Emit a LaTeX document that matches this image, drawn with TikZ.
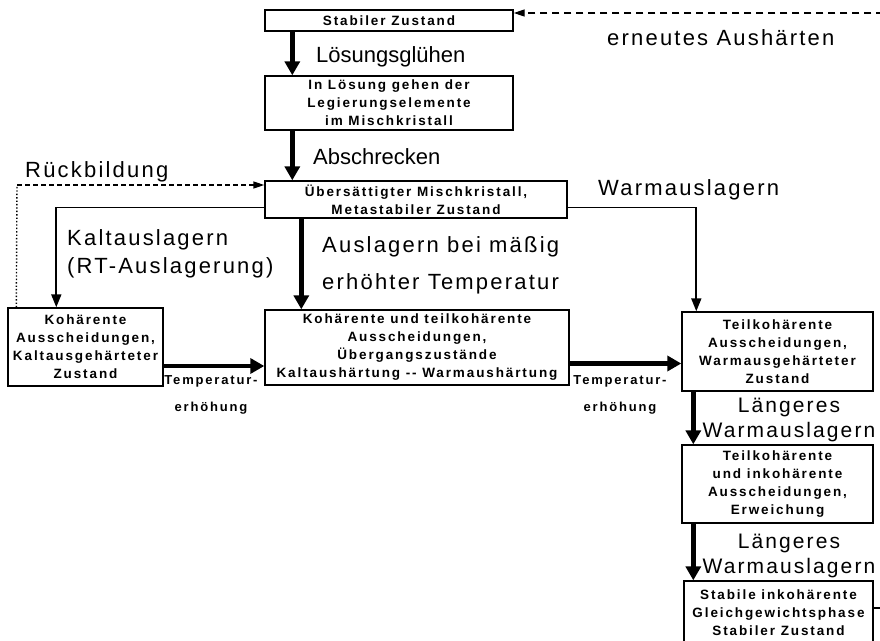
\documentclass[tikz,border=0pt]{standalone}
\usepackage{fontspec}
\setmainfont{Liberation Sans}
\newfontfamily\boxfont[LetterSpace=14]{Liberation Sans}
\newfontfamily\labelfont[LetterSpace=10]{Liberation Sans}
\usepackage{tikz}
\usetikzlibrary{arrows.meta, positioning, calc}

\begin{document}
\begin{tikzpicture}[x=1pt, y=-1pt,
    zustand/.style={draw, line width=1.4pt, align=center, inner sep=0pt, font=\boxfont\bfseries\fontsize{13.5}{18}\selectfont},
    schritt/.style={align=center, inner sep=0pt, font=\labelfont\fontsize{22}{28}\selectfont},
    klein/.style={align=center, inner sep=0pt, font=\boxfont\bfseries\fontsize{13}{27}\selectfont},
    dick/.style={line width=4.5pt, -{Triangle[length=14pt, width=15pt]}},
    duenn/.style={line width=1.8pt, -{Triangle[length=13pt, width=10pt]}},
    rueck/.style={line width=1.4pt, dash pattern=on 7pt off 5pt}]
        \path[use as bounding box, clip] (0,0) rectangle (880,640);

        % Zustaende (Kaesten)
        \node[zustand, minimum width=248pt, minimum height=21pt] (stabil) at (389,20.5) {Stabiler Zustand};
        \node[zustand, minimum width=248pt, minimum height=54pt] (loesung) at (389,103) {In Lösung gehen der\\Legierungselemente\\im Mischkristall};
        \node[zustand, minimum width=302pt, minimum height=37pt] (uebers) at (416,199.5) {Übersättigter Mischkristall,\\Metastabiler Zustand};
        \node[zustand, minimum width=155pt, minimum height=78pt] (kalt) at (85.5,347) {Kohärente\\Ausscheidungen,\\Kaltausgehärteter\\Zustand};
        \node[zustand, minimum width=304pt, minimum height=75pt] (uebergang) at (417,347.5) {Kohärente und teilkohärente\\Ausscheidungen,\\Übergangszustände\\Kaltaushärtung -{}- Warmaushärtung};
        \node[zustand, minimum width=191pt, minimum height=79pt] (warm) at (777.5,351.5) {Teilkohärente\\Ausscheidungen,\\Warmausgehärteter\\Zustand};
        \node[zustand, minimum width=191pt, minimum height=78pt] (inkoh) at (777.5,484) {Teilkohärente\\und inkohärente\\Ausscheidungen,\\Erweichung};
        \node[zustand, minimum width=189pt, minimum height=64pt] (gleich) at (778.5,613) {Stabile inkohärente\\Gleichgewichtsphase\\Stabiler Zustand};

        % Behandlungsschritte
        \node[schritt, anchor=west, font=\fontsize{22}{28}\selectfont] (gluehen) at (316,57) {Lösungsglühen};
        \node[schritt, anchor=west] (erneut) at (607,38) {erneutes Aushärten};
        \node[schritt, anchor=west, font=\fontsize{22}{28}\selectfont] (abschreck) at (313,157) {Abschrecken};
        \node[schritt, anchor=west] (rueckbild) at (25,172) {Rückbildung};
        \node[schritt, anchor=west] (warmlag) at (598,190) {Warmauslagern};
        \node[schritt, anchor=west, align=left] (kaltlag) at (67,254) {Kaltauslagern\\(RT-Auslagerung)};
        \node[schritt, anchor=west, align=left, font=\labelfont\fontsize{22}{37}\selectfont] (maessig) at (322,265) {Auslagern bei mäßig\\erhöhter Temperatur};
        \node[klein] (temp1) at (211,395) {Temperatur-\\erhöhung};
        \node[klein] (temp2) at (620,395) {Temperatur-\\erhöhung};
        \node[schritt, font=\labelfont\fontsize{21}{25}\selectfont] (laenger1) at (789,420) {Längeres\\Warmauslagern};
        \node[schritt, font=\labelfont\fontsize{21}{25}\selectfont] (laenger2) at (789,556) {Längeres\\Warmauslagern};

        % Loesungsgluehen, Abschrecken, Auslagern
        \draw[dick] ([xshift=28pt]stabil.south west) -- ([xshift=28pt]loesung.north west);
        \draw[dick] ([xshift=28pt]loesung.south west) -- ([xshift=28pt]uebers.north west);
        \draw[dick] ([xshift=37pt]uebers.south west) -- ([xshift=37pt]uebergang.north west);

        % Kalt- und Warmauslagern
        \draw[duenn] ([yshift=-8pt]uebers.west) -| ([xshift=49pt]kalt.north west);
        \draw[duenn] ([yshift=-8pt]uebers.east) -| ([xshift=15pt]warm.north west);

        % Temperaturerhoehung
        \coordinate (k1) at ([yshift=-19pt]kalt.east);
        \draw[dick] (k1) -- (k1 -| uebergang.west);
        \coordinate (k2) at ([yshift=-16pt]uebergang.east);
        \draw[dick] (k2) -- (k2 -| warm.west);

        % Laengeres Warmauslagern
        \coordinate (w1) at ([xshift=12pt]warm.south west);
        \draw[dick] (w1) -- (w1 |- inkoh.north);
        \coordinate (w2) at ([xshift=12pt]inkoh.south west);
        \draw[dick] (w2) -- (w2 |- gleich.north);

        % Rueckbildung
        \coordinate (rbknick) at (17,185);
        \draw[line width=1.4pt, dotted] ([xshift=9pt]kalt.north west) -- (rbknick);
        \draw[line width=1.4pt, dash pattern=on 5pt off 3pt, -{Triangle[length=11pt, width=7pt]}] (rbknick) -- (rbknick -| uebers.west);

        % erneutes Aushaerten
        \coordinate (neu) at (905,13);
        \draw[rueck, -{Triangle[length=11pt, width=7pt]}] ([yshift=5pt]gleich.east) -| (neu) -- (neu -| stabil.east);
\end{tikzpicture}
\end{document}
